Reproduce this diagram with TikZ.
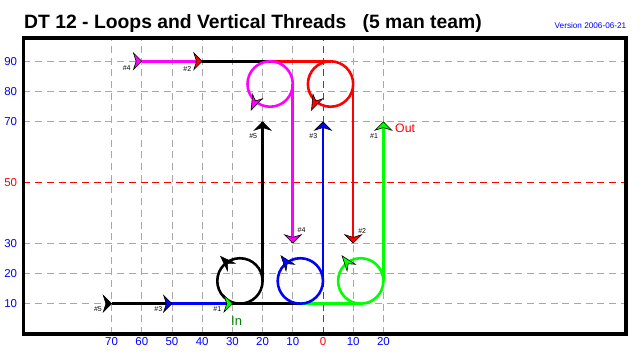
\documentclass[tikz,border=0pt]{standalone}
\usepackage{fontspec}
\setmainfont{Liberation Sans}
\usetikzlibrary{positioning}
\definecolor{kblue}{HTML}{0000FF}
\definecolor{kgreen}{HTML}{00FF00}
\definecolor{kred}{HTML}{FF0000}
\definecolor{kpink}{HTML}{FF00FF}
\definecolor{ingreen}{HTML}{008000}
\definecolor{gridgrey}{HTML}{A8A8A8}

\begin{document}
\begin{tikzpicture}[x=0.0906cm,y=0.0909cm,
    gridline/.style={gridgrey,line width=0.8pt,dash pattern=on 6pt off 4pt},
    thread/.style={line width=2.2pt},
    num/.style={font=\fontsize{6}{7}\selectfont,inner sep=0pt},
    axis/.style={font=\fontsize{9.8}{11}\selectfont,inner sep=0pt,text=kblue},
    kite/.pic={\filldraw[fill=#1,draw=black,line width=0.5pt,line join=miter]
      (0,0) -- (-0.25cm,0.25cm) -- (-0.17cm,0) -- (-0.25cm,-0.25cm) -- cycle;},
    loopkite/.pic={\filldraw[fill=#1,draw=black,line width=0.5pt,line join=miter]
      (0,0) -- (-0.45cm,0.16cm) -- (-0.3cm,0) -- (-0.45cm,-0.16cm) -- cycle;}]
  \useasboundingbox (-106.95,-8.58) rectangle (104.97,110.23);
  \foreach \y in {10,20,30,70,80,90}
    \draw[gridline] (-99.2,\y) -- (100.3,\y);
  \foreach \x in {-70,-60,...,-10,10,20}
    \draw[gridline] (\x,0) -- (\x,97.7);
  \draw[gridline,kred] (-99.2,50) -- (100.3,50);
  \draw[gridline,kred] (0,0) -- (0,97.7);
  \draw[line width=3pt] (-99.2,0) rectangle (100.3,97.7);

  \node[anchor=base west,inner sep=0pt,font=\fontsize{16.5}{18}\selectfont\bfseries] (title) at (-99,100.8)
    {DT 12 - Loops and Vertical Threads\ \ \ (5 man team)};
  \node[anchor=base east,inner sep=0pt,font=\fontsize{7}{8}\selectfont,text=kblue] (version) at (100.5,100.7)
    {Version 2006-06-21};
  \foreach \v in {10,20,30,70,80,90}
    \node[axis,anchor=east] (yl\v) at (-101.2,\v) {\v};
  \node[axis,anchor=east,text=kred] (yl50) at (-101.2,50) {50};
  \foreach \x/\v in {-70/70,-60/60,-50/50,-40/40,-30/30,-20/20,-10/10,10/10,20/20}
    \node[axis] (xl\x) at (\x,-2.6) {\v};
  \node[axis,text=kred] (xl0) at (0,-2.6) {0};

  \coordinate (k5) at (-70,10);
  \coordinate (k3) at (-50,10);
  \coordinate (k1) at (-30,10);
  \coordinate (k4) at (-60,90);
  \coordinate (k2) at (-40,90);
  \coordinate (u5) at (-20,70);
  \coordinate (u3) at (0,70);
  \coordinate (u1) at (20,70);
  \coordinate (d4) at (-10,30);
  \coordinate (d2) at (10,30);
  \coordinate (b5) at (-27.5,17.5);
  \coordinate (b3) at (-7.5,17.5);
  \coordinate (b1) at (12.5,17.5);
  \coordinate (t4) at (-17.5,82.5);
  \coordinate (t2) at (2.5,82.5);

  \draw[thread,black] (k5) -- (k3);
  \draw[thread,kblue] (k3) -- (k1);
  \draw[thread,black] (k1) -- (b3 |- k1);
  \draw[thread,kgreen] (b3 |- k1) -- (b1 |- k1);
  \draw[thread,kpink] (k4) -- (k2);
  \draw[thread,black] (k2) -- (t4 |- k2);
  \draw[thread,kred] (t4 |- k2) -- (t2 |- k2);

  \draw[thread,black] (b5) circle (7.5);
  \draw[thread,kblue] (b3) circle (7.5);
  \draw[thread,kgreen] (b1) circle (7.5);
  \draw[thread,kpink] (t4) circle (7.5);
  \draw[thread,kred] (t2) circle (7.5);
  \draw[thread,black] (u5 |- b5) -- (u5);
  \draw[thread,kblue] (u3 |- b3) -- (u3);
  \draw[thread,kgreen] (u1 |- b1) -- (u1);
  \draw[thread,kpink] (d4 |- t4) -- (d4);
  \draw[thread,kred] (d2 |- t2) -- (d2);

  \pic at (k5) {kite=black};
  \pic at (k3) {kite=kblue};
  \pic at (k1) {kite=kgreen};
  \pic at (k4) {kite=kpink};
  \pic at (k2) {kite=kred};
  \pic[rotate=90] at (u5) {kite=black};
  \pic[rotate=90] at (u3) {kite=kblue};
  \pic[rotate=90] at (u1) {kite=kgreen};
  \pic[rotate=-90] at (d4) {kite=kpink};
  \pic[rotate=-90] at (d2) {kite=kred};
  \pic[rotate=135] at (-33.9,25.6) {loopkite=black};
  \pic[rotate=128] at (-13.9,25.8) {loopkite=kblue};
  \pic[rotate=128] at (6.3,25.8) {loopkite=kgreen};
  \pic[rotate=245] at (-23.8,73.9) {loopkite=kpink};
  \pic[rotate=245] at (-3.8,73.9) {loopkite=kred};

  \node[num] (n5) at (-74.5,8.3) {\#5};
  \node[num] (n3) at (-54.5,8.3) {\#3};
  \node[num] (n1) at (-35,8.3) {\#1};
  \node[inner sep=0pt,text=ingreen,font=\fontsize{11}{12}\selectfont] (in) at (-28.6,4.2) {In};
  \node[num] (n4) at (-65,87.7) {\#4};
  \node[num] (n2) at (-44.9,87.5) {\#2};
  \node[num] (m5) at (-23.1,65.4) {\#5};
  \node[num] (m3) at (-3.2,65.4) {\#3};
  \node[num] (m1) at (16.9,65.4) {\#1};
  \node[inner sep=0pt,text=kred,font=\fontsize{10.5}{12}\selectfont] (out) at (27.2,67.8) {Out};
  \node[num] (p4) at (-7.1,34.3) {\#4};
  \node[num] (p2) at (13,34) {\#2};
\end{tikzpicture}
\end{document}
